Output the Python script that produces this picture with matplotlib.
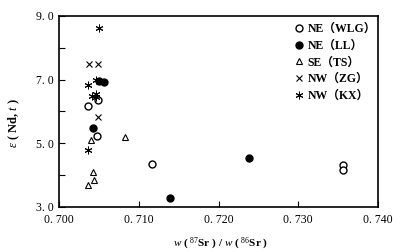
import matplotlib
matplotlib.use("Agg")
import matplotlib.pyplot as plt
from matplotlib.ticker import MultipleLocator

FAM = ['Liberation Serif', 'Noto Sans CJK SC', 'DejaVu Serif']
plt.rcParams['font.family'] = FAM
plt.rcParams['mathtext.fontset'] = 'custom'
plt.rcParams['mathtext.rm'] = 'Liberation Serif'
plt.rcParams['mathtext.it'] = 'Liberation Serif:italic'
plt.rcParams['mathtext.bf'] = 'Liberation Serif:bold'

# Data
wlg_x = [0.7049, 0.7036, 0.7048, 0.7117, 0.7356, 0.7356]
wlg_y = [6.36, 6.18, 5.23, 4.34, 4.32, 4.16]
ll_x = [0.7050, 0.7057, 0.7043, 0.7238, 0.7139]
ll_y = [6.97, 6.93, 5.47, 4.54, 3.27]
ts_x = [0.7040, 0.7083, 0.7043, 0.7044, 0.7037]
ts_y = [5.09, 5.19, 4.09, 3.84, 3.69]
zg_x = [0.7038, 0.7049, 0.7049]
zg_y = [7.49, 7.49, 5.82]
kx_x = [0.7050, 0.7046, 0.7037, 0.7042, 0.7046, 0.7047, 0.7037]
kx_y = [8.61, 7.00, 6.84, 6.47, 6.54, 6.45, 4.79]

labels = ['NE（WLG）', 'NE（LL）', 'SE（TS）', 'NW（ZG）', 'NW（KX）']
x_ticks = [0.700, 0.710, 0.720, 0.730, 0.740]
x_ticklabels = ['0. 700', '0. 710', '0. 720', '0. 730', '0. 740']
y_ticks = [3.0, 5.0, 7.0, 9.0]
y_ticklabels = ['3. 0', '5. 0', '7. 0', '9. 0']

fig = plt.figure(figsize=(3.93, 2.52), dpi=100)
ax = fig.add_axes([0.150, 0.179, 0.812, 0.758])

ax.plot(wlg_x, wlg_y, ls='none', marker='o', mfc='white', mec='black', mew=1.0, ms=5, label=labels[0])
ax.plot(ll_x, ll_y, ls='none', marker='o', mfc='black', mec='black', ms=5, label=labels[1])
ax.plot(ts_x, ts_y, ls='none', marker='^', mfc='white', mec='black', mew=0.8, ms=4.5, label=labels[2])
ax.plot(zg_x, zg_y, ls='none', marker='x', color='black', mew=0.8, ms=5, label=labels[3])
ax.plot(kx_x, kx_y, ls='none', marker=(6, 2, 0), color='black', mew=0.7, ms=5.5, label=labels[4])

ax.set_xlim(0.700, 0.740)
ax.set_ylim(3.0, 9.0)
ax.set_xticks(x_ticks)
ax.set_xticklabels(x_ticklabels, fontsize=8.5)
ax.set_yticks(y_ticks)
ax.set_yticklabels(y_ticklabels, fontsize=8.5)
ax.yaxis.set_minor_locator(MultipleLocator(1.0))
ax.tick_params(axis='both', which='both', direction='in', length=4, width=0.8)
ax.tick_params(axis='x', pad=5)
ax.tick_params(axis='y', pad=4)
for s in ax.spines.values():
    s.set_linewidth(1.2)

ax.set_xlabel(r'$w$ ( $^{87}$Sr ) / $w$ ( $^{86}$Sr )', fontsize=8, fontweight='bold')
ax.xaxis.set_label_coords(0.505, -0.15)
ax.set_ylabel(r'$\epsilon$ ( Nd, $t$ )', fontsize=9, fontweight='bold')
ax.yaxis.set_label_coords(-0.115, 0.44)

leg = ax.legend(loc='upper left', bbox_to_anchor=(0.738, 0.963), frameon=False,
                prop={'family': FAM, 'weight': 'bold', 'size': 8.5},
                handlelength=0.8, handletextpad=0.3, labelspacing=0.4,
                borderaxespad=0, borderpad=0)

fig.savefig('out.png', dpi=100)
